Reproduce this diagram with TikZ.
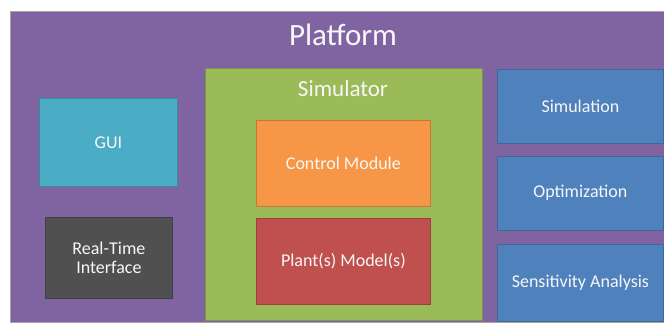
\documentclass[tikz,border=0pt]{standalone}
\usepackage{fontspec}
\setmainfont{Carlito}
\usetikzlibrary{positioning}
\definecolor{platpurple}{HTML}{8064A2}
\definecolor{simgreen}{HTML}{9BBB59}
\definecolor{ctrlorange}{HTML}{F79646}
\definecolor{plantred}{HTML}{C0504D}
\definecolor{toolblue}{HTML}{4F81BD}
\definecolor{guiteal}{HTML}{4BACC6}
\definecolor{rtgray}{HTML}{505050}
\begin{document}
\begin{tikzpicture}[x=1pt,y=-1pt,
  box/.style={draw=#1!80!black,fill=#1,line width=0.8pt,text=white!94!gray,
    font=\fontsize{18}{21}\selectfont,align=center,inner sep=0pt,anchor=north west}]
\useasboundingbox (0,0) rectangle (664,324);
\node[box=platpurple,draw=gray!70,minimum width=658pt,minimum height=311pt] (platform) at (10,11) {};
\node[text=white!94!gray,font=\fontsize{31}{36}\selectfont] (platformlabel) at (343,35) {Platform};
\node[box=guiteal,minimum width=138pt,minimum height=88pt] (gui) at (39,98) {GUI};
\node[box=rtgray,minimum width=127pt,minimum height=81pt] (rt) at (45,217) {Real-Time\\[-2pt]Interface};
\node[box=simgreen,minimum width=277pt,minimum height=252pt] (simulator) at (205,68) {};
\node[text=white!94!gray,font=\fontsize{23}{27}\selectfont] (simulatorlabel) at (343,89) {Simulator};
\node[box=ctrlorange,minimum width=174pt,minimum height=86pt] (control) at (256,120) {Control Module};
\node[box=plantred,minimum width=174pt,minimum height=86pt,below=11pt of control.south west,anchor=north west] (plant) {Plant(s) Model(s)};
\node[box=toolblue,minimum width=166pt,minimum height=74pt] (simulation) at (497,69) {Simulation};
\node[box=toolblue,minimum width=166pt,minimum height=74pt,below=12pt of simulation.south west,anchor=north west] (optimization) {Optimization};
\node[box=toolblue,minimum width=166pt,minimum height=77pt,below=13pt of optimization.south west,anchor=north west] (sensitivity) {Sensitivity Analysis};
\end{tikzpicture}
\end{document}
